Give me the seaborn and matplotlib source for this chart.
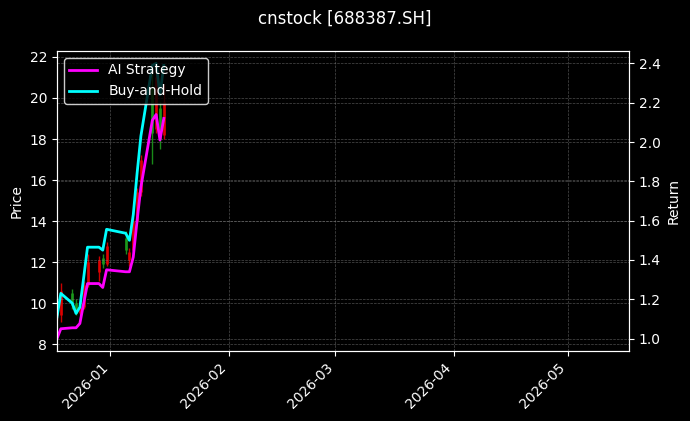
import pandas as pd
import numpy as np
import seaborn as sns
import matplotlib.pyplot as plt
import matplotlib.dates as mdates

# trading days shown on the chart
dates = ['2025-12-18', '2025-12-19', '2025-12-22', '2025-12-23', '2025-12-24',
         '2025-12-25', '2025-12-26', '2025-12-29', '2025-12-30', '2025-12-31',
         '2026-01-05', '2026-01-06', '2026-01-07', '2026-01-08', '2026-01-09',
         '2026-01-12', '2026-01-13', '2026-01-14', '2026-01-15']

# candles (price axis)
opens  = [9.4, 9.4, 10.5, 10.0, 9.5, 9.8, 10.9, 11.5, 12.2, 11.9,
          13.2, 12.1, 12.6, 14.0, 15.4, 20.5, 18.5, 19.5, 18.2]
highs  = [10.0, 11.0, 10.7, 10.2, 9.9, 11.1, 12.4, 12.3, 12.4, 13.0,
          13.5, 12.7, 14.2, 15.6, 17.2, 21.3, 21.6, 19.8, 20.7]
lows   = [9.2, 9.1, 9.7, 9.4, 9.4, 9.7, 10.8, 11.1, 11.7, 11.8,
          12.4, 11.8, 12.5, 13.9, 15.2, 16.8, 18.3, 17.5, 18.0]
closes = [9.8, 10.6, 9.9, 9.5, 9.8, 10.9, 12.0, 12.1, 11.9, 12.8,
          12.6, 12.5, 14.0, 15.4, 17.0, 18.3, 21.0, 18.0, 19.8]

# cumulative returns (return axis)
ai_strategy  = [1.00, 1.05, 1.055, 1.055, 1.077, 1.18, 1.28, 1.28, 1.26, 1.35,
                1.34, 1.34, 1.415, 1.60, 1.77, 2.11, 2.14, 2.01, 2.12]
buy_and_hold = [1.11, 1.23, 1.18, 1.128, 1.16, 1.31, 1.465, 1.465, 1.45, 1.556,
                1.536, 1.50, 1.63, 1.84, 2.03, 2.39, 2.40, 2.24, 2.39]

df = pd.DataFrame({'date': pd.to_datetime(dates), 'open': opens, 'high': highs,
                   'low': lows, 'close': closes,
                   'AI Strategy': ai_strategy, 'Buy-and-Hold': buy_and_hold})

plt.style.use('dark_background')
plt.rcParams['font.family'] = ['DejaVu Sans']

fig = plt.figure(figsize=(6.9, 4.21), dpi=100)
ax = fig.add_axes([0.0826, 0.1663, 0.829, 0.7126])
ax.set_facecolor('black')

up = df[df['close'] >= df['open']]
down = df[df['close'] < df['open']]
for part, col in [(up, '#e00000'), (down, '#1c9a1c')]:
    ax.vlines(part['date'], part['low'], part['high'], color=col, linewidth=1, alpha=0.9)
    ax.vlines(part['date'], part['open'], part['close'], color=col, linewidth=2, alpha=0.9)

ax.set_ylim(7.67, 22.29)
ax.set_ylabel('Price', color='white')
ax.grid(True, linestyle='--', linewidth=0.5, color='gray', alpha=0.6)

ax2 = ax.twinx()
sns.lineplot(data=df, x='date', y='AI Strategy', ax=ax2, color='magenta',
             linewidth=2, label='AI Strategy')
sns.lineplot(data=df, x='date', y='Buy-and-Hold', ax=ax2, color='cyan',
             linewidth=2, label='Buy-and-Hold')
ax2.set_ylim(0.937, 2.463)
ax2.set_ylabel('Return', color='white')
ax2.grid(True, axis='y', linestyle='--', linewidth=0.5, color='gray', alpha=0.6)

ax.set_xlim(pd.Timestamp('2025-12-18'), pd.Timestamp('2026-05-17'))
ax.xaxis.set_major_locator(mdates.MonthLocator())
ax.xaxis.set_major_formatter(mdates.DateFormatter('%Y-%m'))
ax2.set_xlabel('')
ax.set_xlabel('')
plt.setp(ax.get_xticklabels(), rotation=45, ha='right')

leg = ax2.legend(loc='upper left', facecolor='black', edgecolor='white', framealpha=0.8)

fig.suptitle('cnstock [688387.SH]', fontsize=12, y=0.978)
fig.savefig('out.png', dpi=100, facecolor='black')
